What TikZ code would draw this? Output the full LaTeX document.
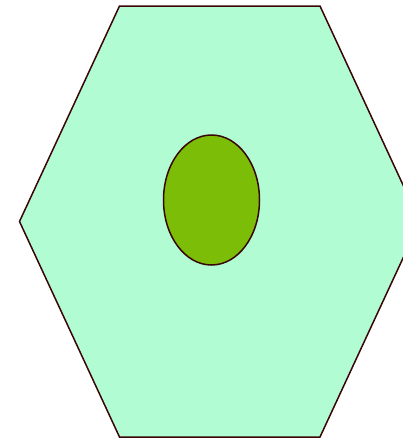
\documentclass[tikz,border=0pt]{standalone}
\usetikzlibrary{shapes.geometric}
\definecolor{cellfill}{HTML}{B1FCD3}
\definecolor{edge}{HTML}{3A0505}
\definecolor{nucfill}{HTML}{7CBD07}
\begin{document}
\begin{tikzpicture}[x=1pt,y=-1pt,
  cellstyle/.style={draw=edge,fill=cellfill,line width=1.5pt,line join=miter},
  nucstyle/.style={draw=edge,fill=nucfill,line width=1.5pt,ellipse,minimum width=96pt,minimum height=130pt,inner sep=0pt}]
\useasboundingbox (0,0) rectangle (403,439);
\begin{scope}
\clip (0,0) rectangle (403,439);
\draw[cellstyle] (119.5,6) -- (320,6) -- (420,221.5) -- (320,437) -- (119.5,437) -- (19.5,221.5) -- cycle;
\end{scope}
\node[nucstyle] (nucleus) at (211.5,200) {};
\end{tikzpicture}
\end{document}
